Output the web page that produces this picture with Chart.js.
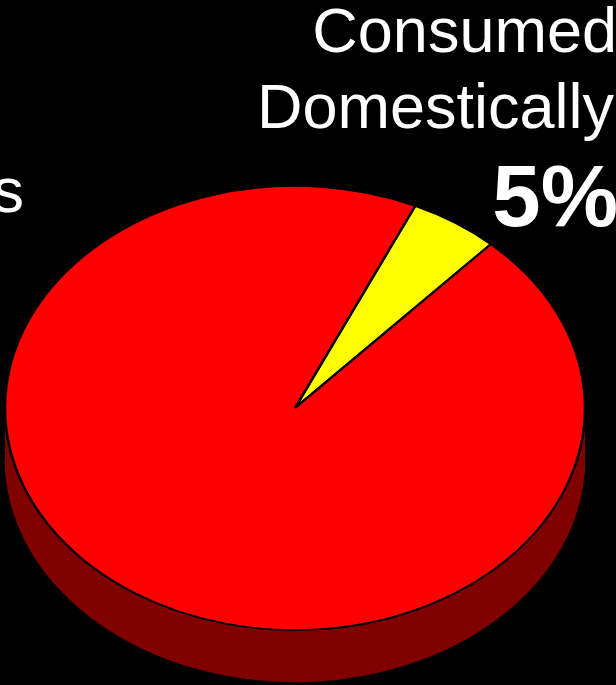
<!DOCTYPE html>
<html>
<head>
<meta charset="utf-8">
<script src="https://cdn.jsdelivr.net/npm/chart.js@4"></script>
<style>
  html, body { margin: 0; padding: 0; background: #000; overflow: hidden; }
  canvas { display: block; }
</style>
</head>
<body>
<canvas id="pie" width="616" height="685"></canvas>
<script>
// Where the production goes (share of total, %)
const categories = ['Consumed Domestically', 'Exports'];
const shares = [5, 95];
const topColors = ['#FFFF00', '#FF0000'];
const sideColors = ['#808000', '#800000'];

const TILT = 0.766;   // vertical squash of the pie disc
const DEPTH = 52;     // thickness of the disc edge, in screen px

function squash(ctx, cy) {
  ctx.translate(0, cy);
  ctx.scale(1, TILT);
  ctx.translate(0, -cy);
}

const tiltedPie = {
  id: 'tiltedPie',
  beforeDatasetsDraw(chart) {
    const ctx = chart.ctx;
    const arcs = chart.getDatasetMeta(0).data;
    const cy = arcs[0].y;
    // side wall of the disc: stacked copies of each slice, darker
    for (let d = DEPTH; d >= 1; d--) {
      ctx.save();
      ctx.translate(0, d);
      squash(ctx, cy);
      arcs.forEach((arc, i) => {
        const p = arc.getProps(['x', 'y', 'startAngle', 'endAngle', 'outerRadius']);
        ctx.beginPath();
        ctx.moveTo(p.x, p.y);
        ctx.arc(p.x, p.y, p.outerRadius, p.startAngle, p.endAngle);
        ctx.closePath();
        ctx.fillStyle = sideColors[i];
        ctx.fill();
      });
      ctx.restore();
    }
    ctx.save();
    squash(ctx, cy);
  },
  afterDatasetsDraw(chart) {
    chart.ctx.restore();
  }
};

const total = shares.reduce((a, b) => a + b, 0);
const pct = v => Math.round(v / total * 100) + '%';

const sliceLabels = {
  id: 'sliceLabels',
  afterDraw(chart) {
    const ctx = chart.ctx;
    ctx.save();
    ctx.fillStyle = '#FFFFFF';
    ctx.textBaseline = 'alphabetic';
    ctx.textAlign = 'right';
    // domestic share, top right
    const words = categories[0].split(' ');
    ctx.font = '63px "Liberation Sans", Arial, sans-serif';
    ctx.fillText(words[0], 617, 52);
    ctx.fillText(words[1], 614, 128);
    ctx.font = 'bold 87px "Liberation Sans", Arial, sans-serif';
    ctx.fillText(pct(shares[0]), 618, 226);
    // export label, running off the left edge
    ctx.font = '63px "Liberation Sans", Arial, sans-serif';
    ctx.fillText(categories[1], 24, 212);
    ctx.restore();
  }
};

new Chart(document.getElementById('pie'), {
  type: 'pie',
  data: {
    labels: categories,
    datasets: [{
      data: shares,
      backgroundColor: topColors,
      borderColor: '#000000',
      borderWidth: 2.5,
      radius: 290
    }]
  },
  options: {
    responsive: false,
    animation: false,
    events: [],
    rotation: 24.5,
    layout: { padding: { left: 5, right: 31, top: 131, bottom: 0 } },
    plugins: {
      legend: { display: false },
      tooltip: { enabled: false }
    }
  },
  plugins: [tiltedPie, sliceLabels]
});
</script>
</body>
</html>
